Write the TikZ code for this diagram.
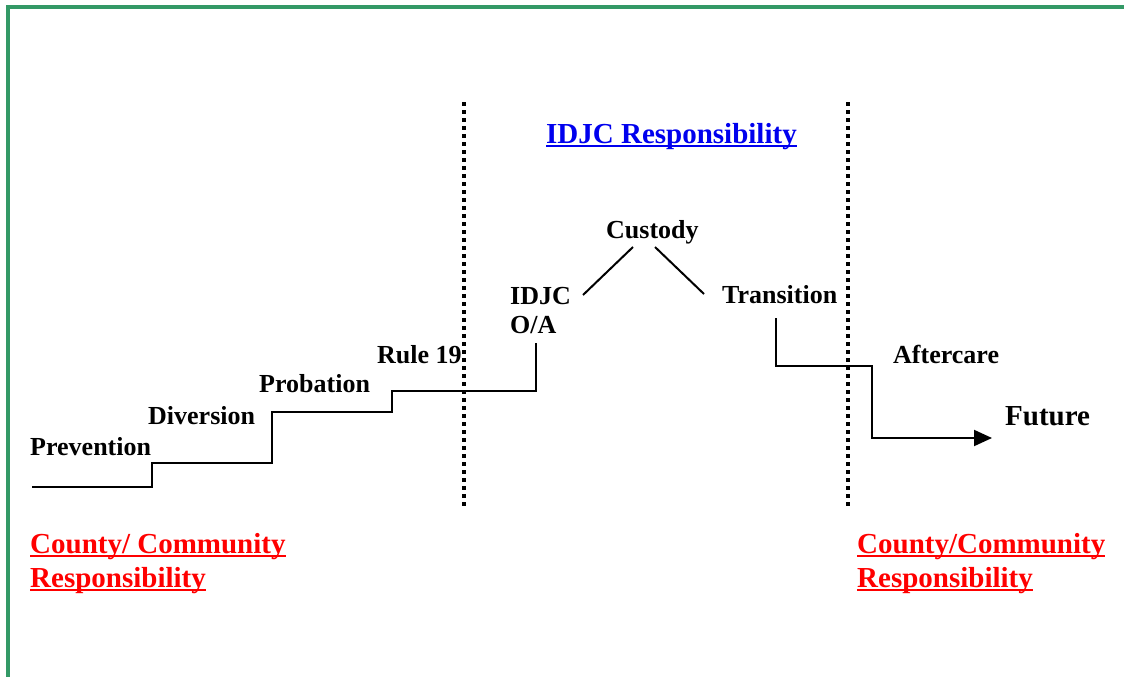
\documentclass[tikz,border=0pt]{standalone}
\usepackage{fontspec}
\setmainfont{Liberation Serif}
\usetikzlibrary{arrows.meta}
\definecolor{frame}{HTML}{339966}
\definecolor{idblue}{HTML}{0000EE}
\definecolor{cored}{HTML}{FF0000}
\newcommand{\ulx}[1]{\setbox0\hbox{#1}\rlap{\copy0}\rule[-4pt]{\wd0}{2pt}}
\begin{document}
\begin{tikzpicture}[x=1pt,y=-1pt,
  lbl/.style={anchor=base west,inner sep=0pt,font=\bfseries\fontsize{26}{30}\selectfont},
  big/.style={anchor=base west,inner sep=0pt,font=\bfseries\fontsize{29}{33}\selectfont},
  conn/.style={line width=2pt},
  sep/.style={line width=3.5pt,dash pattern=on 3.5pt off 4.5pt},
  border/.style={line width=4pt,draw=frame}]
\useasboundingbox (0,0) rectangle (1124,677);
% border
\draw[border] (8,677) -- (8,7) -- (1124,7);
% separators
\coordinate (s1t) at (464,102); \coordinate (s1b) at (464,507);
\coordinate (s2t) at (848,102); \coordinate (s2b) at (848,507);
\draw[sep] (s1t) -- (s1b);
\draw[sep] (s2t) -- (s2b);
% labels
\node[lbl] (prev) at (30,455) {Prevention};
\node[lbl] (div) at (148,424) {Diversion};
\node[lbl] (prob) at (259,392) {Probation};
\node[lbl] (rule) at (377,363) {Rule 19};
\node[lbl] (idjc) at (510,304) {IDJC};
\node[lbl] (oa) at (510,333) {O/A};
\node[lbl] (cust) at (606,238) {Custody};
\node[lbl] (trans) at (722,303) {Transition};
\node[lbl] (after) at (893,363) {Aftercare};
\node[big] (fut) at (1005,425) {Future};
\node[big,text=idblue] (idr) at (546,143) {\ulx{IDJC Responsibility}};
\node[big,text=cored] (cl1) at (30,553) {\ulx{County/ Community}};
\node[big,text=cored] (cl2) at (30,587) {\ulx{Responsibility}};
\node[big,text=cored] (cr1) at (857,553) {\ulx{County/Community}};
\node[big,text=cored] (cr2) at (857,587) {\ulx{Responsibility}};
% staircase
\coordinate (st0) at (32,487);
\coordinate (st1) at (536,343);
\draw[conn] (st0) -- (152,487) -- (152,463) -- (272,463) -- (272,412) -- (392,412) -- (392,391) -- (536,391) -- (st1);
% custody
\coordinate (c1a) at (583,295); \coordinate (c1b) at (633,247);
\coordinate (c2a) at (655,247); \coordinate (c2b) at (704,294);
\draw[conn] (c1a) -- (c1b);
\draw[conn] (c2a) -- (c2b);
% transition to future
\coordinate (t0) at (776,318);
\coordinate (fa) at (992,438);
\draw[conn,-{Triangle[length=18pt,width=16pt]}] (t0) -- (776,366) -- (872,366) -- (872,438) -- (fa);
\end{tikzpicture}
\end{document}
